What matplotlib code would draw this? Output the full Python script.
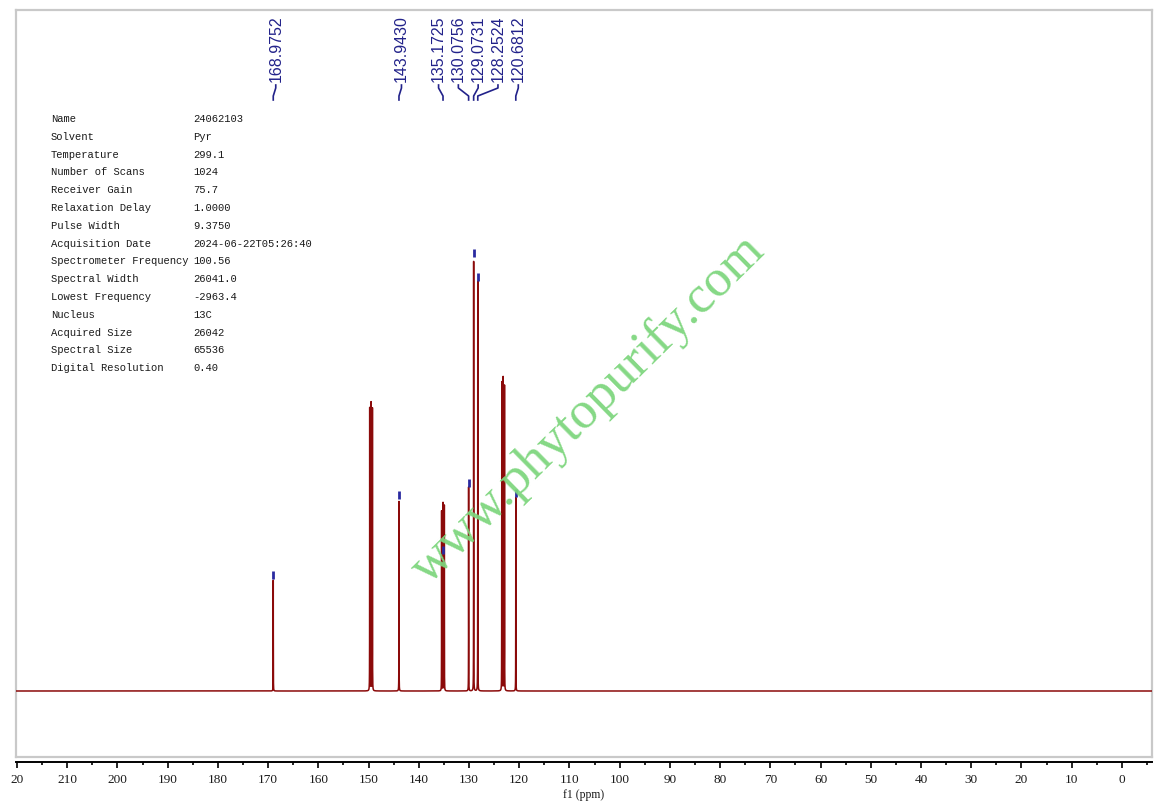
import numpy as np
import matplotlib
matplotlib.use("Agg")
import matplotlib.pyplot as plt
from matplotlib.ticker import MultipleLocator
from matplotlib.transforms import blended_transform_factory

# ---------------- data ----------------
# labelled peaks (ppm) and their marker heights (arbitrary intensity units)
label_ppm = [168.9752, 143.9430, 135.1725, 130.0756, 129.0731, 128.2524, 120.6812]
label_marker_height = [111, 191, 136, 203, 433, 409, 193]

# all lines of the spectrum (ppm, height)
peak_ppm = [168.9752, 149.77, 149.50, 149.23, 143.9430,
            135.45, 135.1725, 134.91, 130.0756, 129.0731, 128.2524,
            123.47, 123.20, 122.93, 120.6812]
peak_height = [111, 283, 289, 284, 190,
               180, 188, 186, 204, 430, 410,
               309, 315, 306, 194]

tick_values = list(range(220, -1, -10))
tick_labels = ["20"] + [str(v) for v in range(210, -1, -10)]

param_names = ["Name", "Solvent", "Temperature", "Number of Scans", "Receiver Gain",
               "Relaxation Delay", "Pulse Width", "Acquisition Date",
               "Spectrometer Frequency", "Spectral Width", "Lowest Frequency",
               "Nucleus", "Acquired Size", "Spectral Size", "Digital Resolution"]
param_values = ["24062103", "Pyr", "299.1", "1024", "75.7", "1.0000", "9.3750",
                "2024-06-22T05:26:40", "100.56", "26041.0", "-2963.4", "13C",
                "26042", "65536", "0.40"]

# ---------------- figure ----------------
W, H = 1163, 810
fig = plt.figure(figsize=(W / 100, H / 100), dpi=100)
fig.patch.set_facecolor("white")

x0, x1, ytop, ybot = 16, 1152, 10, 757
ax = fig.add_axes([x0 / W, (H - ybot) / H, (x1 - x0) / W, (ybot - ytop) / H])
ax.set_xlim(220.2, -6.0)
ax.set_ylim(-66, 681)

# spectrum
ppm = np.linspace(220.2, -6.0, 120000)
hw = 0.012
spec = np.zeros_like(ppm)
for p, h in zip(peak_ppm, peak_height):
    spec += h * hw ** 2 / ((ppm - p) ** 2 + hw ** 2)
ax.plot(ppm, spec, color="#8b0a0a", lw=1.1, zorder=3)

# peak markers
for p, h in zip(label_ppm, label_marker_height):
    ax.plot([p, p], [h + 1, h + 9], color="#2a2aa0", lw=2.0, zorder=4,
            solid_capstyle="butt")

# spines / frame
frame_col = "#c9c9c9"
for s in ["top", "left", "right"]:
    ax.spines[s].set_color(frame_col)
    ax.spines[s].set_linewidth(1.6)
ax.plot([0, 1], [0, 0], transform=ax.transAxes, color=frame_col, lw=1.6,
        clip_on=False, zorder=1)
ax.spines["bottom"].set_position(("outward", 3.8))
ax.spines["bottom"].set_color("black")
ax.spines["bottom"].set_linewidth(1.4)

ax.set_yticks([])
ax.set_xticks(tick_values)
ax.set_xticklabels(tick_labels, family="Liberation Serif", fontsize=9.5,
                   color="#1a1a1a")
ax.xaxis.set_minor_locator(MultipleLocator(5))
ax.tick_params(axis="x", which="major", direction="out", length=4.3, width=1.2,
               pad=4.0, color="black")
ax.tick_params(axis="x", which="minor", direction="out", length=2.3, width=1.2,
               color="black")
ax.set_xlabel("f1 (ppm)", family="Liberation Serif", fontsize=8.5, labelpad=2.5,
              color="#1a1a1a")

# ---------------- peak labels ----------------
px_per_ppm = (x1 - x0) / (220.2 + 6.0)
desired = [x0 + (220.2 - p) * px_per_ppm for p in label_ppm]
gap = 19.8
clusters = []
for d in desired:
    clusters.append([d, [d]])
    while len(clusters) > 1 and clusters[-2][0] + gap * len(clusters[-2][1]) > clusters[-1][0]:
        b = clusters.pop()
        a = clusters.pop()
        mem = a[1] + b[1]
        clusters.append([np.mean(mem) - gap * (len(mem) - 1) / 2, mem])
label_px = []
for start, mem in clusters:
    label_px += [start + gap * i + 2.5 for i in range(len(mem))]


def fy(ypx):
    return (ybot - ypx) / (ybot - ytop)


trans = blended_transform_factory(ax.transData, ax.transAxes)
for p, lx in zip(label_ppm, label_px):
    lppm = 220.2 - (lx - x0) / px_per_ppm
    ax.text(lppm, fy(82), f"{p:.4f}", rotation=90, ha="center", va="bottom",
            transform=trans, family="Liberation Sans", fontsize=11.5,
            color="#22228a", clip_on=False)
    ax.plot([lppm, lppm, p, p], [fy(85), fy(88), fy(96), fy(100)],
            transform=trans, color="#22228a", lw=1.2, clip_on=False)

# ---------------- parameter table ----------------
for i, (n, v) in enumerate(zip(param_names, param_values)):
    ypx = 119 + i * 17.8
    fig.text(51 / W, 1 - ypx / H, n, family="Liberation Mono", fontsize=7.6,
             color="#1a1a1a", va="center", ha="left")
    fig.text(193 / W, 1 - ypx / H, v, family="Liberation Mono", fontsize=7.6,
             color="#1a1a1a", va="center", ha="left")

# ---------------- watermark ----------------
fig.text(588 / W, 1 - 410 / H, "www.phytopurify.com", rotation=44.5,
         rotation_mode="anchor", ha="center", va="center", fontsize=38,
         family="Liberation Serif", color="#7ed67e", alpha=0.95, zorder=10)

fig.savefig("out.png", dpi=100)
